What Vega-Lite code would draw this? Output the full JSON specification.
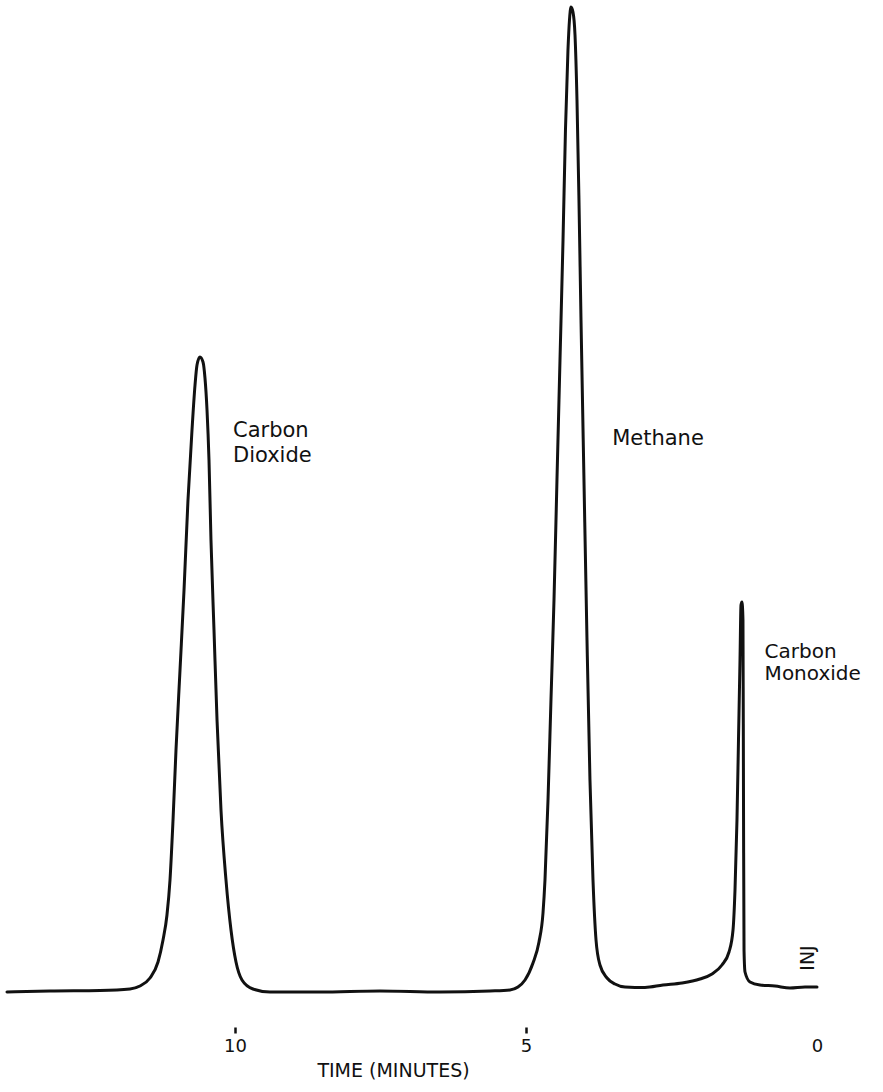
{
  "$schema": "https://vega.github.io/schema/vega-lite/v6.json",
  "width": 883,
  "height": 990,
  "autosize": "none",
  "padding": {"left": 0, "top": 0, "right": 0, "bottom": 102},
  "background": "white",
  "config": {"view": {"stroke": null}, "font": "DejaVu Sans"},
  "datasets": {
    "trace": [
      {"t": 13.918, "s": -0.2}, {"t": 13.179, "s": -0.1}, {"t": 12.32, "s": -0.05}, {"t": 11.804, "s": 0.1},
      {"t": 11.633, "s": 0.4}, {"t": 11.461, "s": 1.2}, {"t": 11.323, "s": 2.8}, {"t": 11.237, "s": 5.0},
      {"t": 11.169, "s": 7.5}, {"t": 11.117, "s": 11.0}, {"t": 11.065, "s": 17.0}, {"t": 11.014, "s": 24.0},
      {"t": 10.945, "s": 32.0}, {"t": 10.876, "s": 40.0}, {"t": 10.808, "s": 49.0}, {"t": 10.739, "s": 56.0},
      {"t": 10.687, "s": 60.5}, {"t": 10.653, "s": 62.5}, {"t": 10.602, "s": 63.3}, {"t": 10.55, "s": 62.8},
      {"t": 10.516, "s": 61.2}, {"t": 10.481, "s": 58.0}, {"t": 10.447, "s": 53.0}, {"t": 10.413, "s": 45.0},
      {"t": 10.361, "s": 36.0}, {"t": 10.309, "s": 27.0}, {"t": 10.241, "s": 18.0}, {"t": 10.155, "s": 11.0},
      {"t": 10.069, "s": 6.0}, {"t": 9.983, "s": 2.8}, {"t": 9.88, "s": 1.0}, {"t": 9.691, "s": 0.1},
      {"t": 9.399, "s": -0.2}, {"t": 8.54, "s": -0.2}, {"t": 7.509, "s": -0.1}, {"t": 6.478, "s": -0.2},
      {"t": 5.619, "s": -0.1}, {"t": 5.275, "s": 0.0}, {"t": 5.138, "s": 0.3}, {"t": 5.017, "s": 1.0},
      {"t": 4.88, "s": 2.7}, {"t": 4.777, "s": 4.8}, {"t": 4.708, "s": 7.7}, {"t": 4.674, "s": 11.0},
      {"t": 4.622, "s": 19.0}, {"t": 4.571, "s": 29.0}, {"t": 4.519, "s": 39.0}, {"t": 4.468, "s": 51.0},
      {"t": 4.416, "s": 63.0}, {"t": 4.364, "s": 75.0}, {"t": 4.322, "s": 86.0}, {"t": 4.279, "s": 94.0},
      {"t": 4.253, "s": 97.0}, {"t": 4.227, "s": 98.3}, {"t": 4.193, "s": 97.8}, {"t": 4.158, "s": 95.5},
      {"t": 4.124, "s": 89.0}, {"t": 4.09, "s": 79.0}, {"t": 4.055, "s": 67.0}, {"t": 4.004, "s": 51.0},
      {"t": 3.952, "s": 35.0}, {"t": 3.901, "s": 21.0}, {"t": 3.849, "s": 11.0}, {"t": 3.797, "s": 5.0},
      {"t": 3.729, "s": 2.5}, {"t": 3.608, "s": 1.2}, {"t": 3.471, "s": 0.6}, {"t": 3.299, "s": 0.3},
      {"t": 2.956, "s": 0.25}, {"t": 2.646, "s": 0.5}, {"t": 2.32, "s": 0.7}, {"t": 2.011, "s": 1.1},
      {"t": 1.804, "s": 1.6}, {"t": 1.633, "s": 2.5}, {"t": 1.512, "s": 3.8}, {"t": 1.443, "s": 6.0},
      {"t": 1.409, "s": 10.0}, {"t": 1.375, "s": 17.0}, {"t": 1.349, "s": 25.0}, {"t": 1.323, "s": 33.0},
      {"t": 1.306, "s": 38.5}, {"t": 1.289, "s": 38.8}, {"t": 1.272, "s": 37.0}, {"t": 1.263, "s": 19.0},
      {"t": 1.254, "s": 4.0}, {"t": 1.237, "s": 1.8}, {"t": 1.151, "s": 0.8}, {"t": 0.98, "s": 0.5},
      {"t": 0.722, "s": 0.4}, {"t": 0.464, "s": 0.2}, {"t": 0.206, "s": 0.3}, {"t": 0.0, "s": 0.3}
    ],
    "co2": [{"t": 10.035, "s": 57.0, "label": ["Carbon", "Dioxide"]}],
    "ch4": [{"t": 3.52, "s": 56.2, "label": "Methane"}],
    "co": [{"t": 0.9, "s": 34.8, "label": ["Carbon", "Monoxide"]}],
    "inj": [{"t": 0.155, "s": 3.2, "label": "INJ"}]
  },
  "layer": [
    {
      "data": {"name": "trace"},
      "mark": {"type": "line", "color": "#111111", "strokeWidth": 3, "interpolate": "monotone", "strokeCap": "round", "strokeJoin": "round"},
      "encoding": {
        "x": {
          "field": "t", "type": "quantitative",
          "scale": {"domain": [-1.134, 14.038], "reverse": true, "nice": false, "zero": false},
          "axis": {
            "values": [10, 5, 0],
            "format": "d",
            "domain": false, "grid": false,
            "offset": 37,
            "tickSize": 6, "tickWidth": 2.5, "tickColor": "#111111",
            "tickOpacity": {"condition": {"test": "datum.value == 0", "value": 0}, "value": 1},
            "labelFont": "DejaVu Sans", "labelFontSize": 18, "labelColor": "#111111", "labelPadding": 4,
            "title": "TIME (MINUTES)", "titleFont": "DejaVu Sans", "titleFontSize": 19, "titleFontWeight": "normal",
            "titleColor": "#111111", "titlePadding": 6, "titleX": 393, "titleAlign": "center", "titleAnchor": null
          }
        },
        "y": {
          "field": "s", "type": "quantitative",
          "scale": {"domain": [0, 99], "nice": false, "zero": false},
          "axis": null
        }
      }
    },
    {
      "data": {"name": "co2"},
      "mark": {"type": "text", "align": "left", "baseline": "top", "fontSize": 21, "lineHeight": 25, "color": "#111111", "font": "DejaVu Sans"},
      "encoding": {"x": {"field": "t", "type": "quantitative"}, "y": {"field": "s", "type": "quantitative"}, "text": {"field": "label"}}
    },
    {
      "data": {"name": "ch4"},
      "mark": {"type": "text", "align": "left", "baseline": "top", "fontSize": 21, "color": "#111111", "font": "DejaVu Sans"},
      "encoding": {"x": {"field": "t", "type": "quantitative"}, "y": {"field": "s", "type": "quantitative"}, "text": {"field": "label"}}
    },
    {
      "data": {"name": "co"},
      "mark": {"type": "text", "align": "left", "baseline": "top", "fontSize": 20, "lineHeight": 22, "color": "#111111", "font": "DejaVu Sans"},
      "encoding": {"x": {"field": "t", "type": "quantitative"}, "y": {"field": "s", "type": "quantitative"}, "text": {"field": "label"}}
    },
    {
      "data": {"name": "inj"},
      "mark": {"type": "text", "align": "center", "baseline": "middle", "angle": 270, "fontSize": 19, "color": "#111111", "font": "DejaVu Sans"},
      "encoding": {"x": {"field": "t", "type": "quantitative"}, "y": {"field": "s", "type": "quantitative"}, "text": {"field": "label"}}
    }
  ]
}
